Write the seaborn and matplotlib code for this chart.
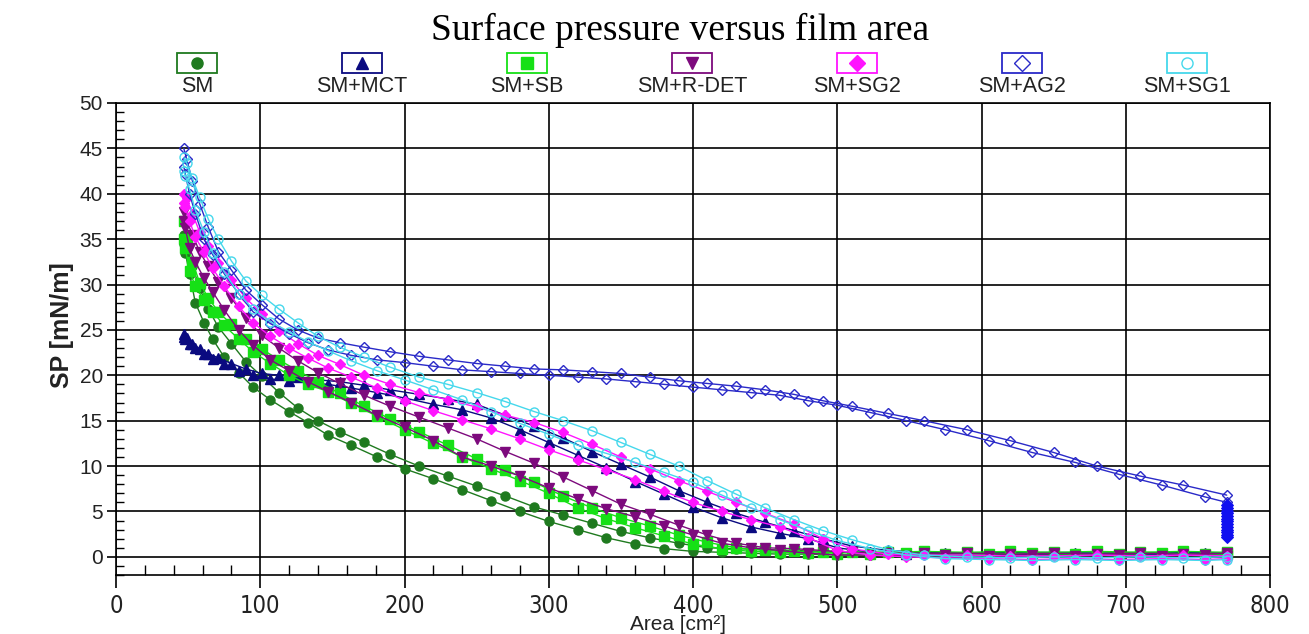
import matplotlib
matplotlib.use("Agg")
import numpy as np
import pandas as pd
import matplotlib.pyplot as plt
from matplotlib import font_manager
from matplotlib.lines import Line2D
from matplotlib.patches import Rectangle
from matplotlib.ticker import MultipleLocator
import seaborn as sns

# film area of the sampled points (compression and expansion branches)
AREA_COMP = [770, 740, 710, 680, 650, 620, 590, 560, 535, 510, 490, 470, 450, 430, 410, 390, 370, 350, 330, 310,
             290, 270, 250, 230, 210, 190, 172, 155, 140, 126, 113, 101, 90, 80, 71, 64, 58, 53, 49, 47]
AREA_EXP = [47, 48, 51, 55, 61, 67, 75, 85, 95, 107, 120, 133, 147, 163, 181, 200, 220, 240, 260, 280,
            300, 320, 340, 360, 380, 400, 420, 440, 460, 480, 500, 523, 548, 575, 605, 635, 665, 695, 725, 755, 770]

SM_COMP = [0.4, 0.4, 0.5, 0.4, 0.4, 0.5, 0.4, 0.4, 0.5, 0.5, 0.6, 0.7, 0.8, 0.9, 1.0, 1.5, 2.1, 2.8, 3.7, 4.6,
           5.5, 6.7, 7.8, 8.9, 10.0, 11.3, 12.6, 13.8, 15.0, 16.4, 18.1, 19.9, 21.5, 23.5, 25.3, 27.3, 29.6, 32.0, 34.0, 35.5]
SM_EXP = [34.5, 33.5, 31.2, 28.0, 25.8, 24.0, 22.0, 20.3, 18.7, 17.3, 16.0, 14.8, 13.4, 12.3, 11.0, 9.7, 8.6, 7.4, 6.2, 5.0,
          3.9, 3.0, 2.1, 1.4, 0.9, 0.6, 0.5, 0.4, 0.3, 0.3, 0.2, 0.2, 0.2, 0.3, 0.2, 0.2, 0.3, 0.2, 0.2, 0.3, 0.2]

MCT_COMP = [0.4, 0.5, 0.4, 0.4, 0.5, 0.4, 0.4, 0.5, 0.7, 1.2, 2.0, 2.9, 3.8, 4.8, 6.0, 7.3, 8.8, 10.2, 11.6, 13.1,
            14.4, 15.6, 16.8, 17.4, 17.9, 18.4, 18.9, 19.3, 19.5, 19.8, 20.0, 20.2, 20.7, 21.3, 21.9, 22.4, 22.9, 23.5, 24.1, 24.5]
MCT_EXP = [24.2, 24.0, 23.5, 23.0, 22.3, 21.8, 21.2, 20.5, 20.0, 19.6, 19.4, 19.2, 19.0, 18.6, 18.1, 17.5, 16.8, 16.2, 15.3, 14.0,
           12.6, 11.2, 9.8, 8.3, 6.9, 5.5, 4.3, 3.3, 2.6, 2.0, 1.0, 0.5, 0.3, 0.4, 0.3, 0.3, 0.4, 0.3, 0.3, 0.4, 0.3]

SB_COMP = [0.5, 0.6, 0.5, 0.6, 0.5, 0.6, 0.5, 0.6, 0.5, 0.5, 0.5, 0.6, 0.7, 1.0, 1.6, 2.4, 3.4, 4.3, 5.4, 6.7,
           8.2, 9.6, 10.8, 12.3, 13.8, 15.2, 16.6, 18.0, 19.3, 20.5, 21.7, 22.9, 24.0, 25.6, 27.0, 28.5, 30.2, 32.5, 35.0, 37.0]
SB_EXP = [35.0, 34.0, 31.5, 29.8, 28.3, 27.0, 25.5, 24.0, 22.6, 21.3, 20.0, 19.0, 18.2, 16.9, 15.5, 14.0, 12.5, 11.0, 9.7, 8.4,
          7.0, 5.4, 4.2, 3.2, 2.3, 1.4, 0.9, 0.6, 0.5, 0.4, 0.3, 0.3, 0.4, 0.3, 0.3, 0.4, 0.3, 0.3, 0.4, 0.3, 0.3]

RDET_COMP = [0.4, 0.3, 0.4, 0.3, 0.4, 0.3, 0.4, 0.4, 0.4, 0.5, 0.7, 0.9, 1.0, 1.5, 2.4, 3.5, 4.7, 5.8, 7.3, 8.8,
             10.3, 11.6, 13.0, 14.2, 15.4, 16.6, 17.8, 19.1, 20.3, 21.6, 23.0, 24.4, 26.3, 28.5, 30.3, 32.0, 33.6, 35.5, 37.0, 38.0]
RDET_EXP = [37.0, 36.2, 34.0, 32.5, 30.7, 29.2, 27.2, 25.0, 23.3, 21.7, 20.5, 19.3, 18.2, 17.0, 15.6, 14.3, 12.8, 11.0, 10.0, 8.9,
            7.6, 6.4, 5.3, 4.4, 3.4, 2.4, 1.5, 1.0, 0.7, 0.4, 0.2, 0.2, 0.1, 0.2, 0.1, 0.2, 0.1, 0.2, 0.1, 0.2, 0.1]

SG2_COMP = [0.1, 0.2, 0.1, 0.2, 0.1, 0.1, 0.2, 0.2, 0.3, 0.9, 2.0, 3.6, 4.8, 6.0, 7.2, 8.4, 9.7, 11.0, 12.4, 13.7,
            14.8, 15.6, 16.5, 17.3, 18.1, 19.0, 20.0, 21.2, 22.2, 23.5, 24.9, 26.8, 28.5, 30.5, 32.4, 34.2, 35.8, 37.8, 39.5, 40.0]
SG2_EXP = [39.0, 38.5, 37.0, 35.2, 33.6, 31.8, 29.8, 27.6, 25.8, 24.3, 23.0, 21.9, 20.8, 19.8, 18.6, 17.2, 16.1, 15.1, 14.1, 13.0,
           11.8, 10.7, 9.6, 8.5, 7.2, 6.0, 5.0, 4.1, 3.3, 2.1, 0.7, 0.2, 0.0, -0.1, -0.2, -0.3, -0.2, -0.3, -0.2, -0.3, -0.2]

AG2_COMP = [6.8, 7.9, 8.9, 10.0, 11.5, 12.8, 14.0, 15.0, 15.8, 16.6, 17.2, 17.9, 18.4, 18.8, 19.1, 19.4, 19.8, 20.2, 20.4, 20.6,
            20.7, 21.0, 21.3, 21.7, 22.1, 22.6, 23.1, 23.6, 24.1, 25.0, 26.2, 27.8, 29.4, 31.6, 33.6, 36.3, 38.9, 41.4, 43.8, 45.0]
AG2_EXP = [43.0, 42.2, 40.0, 37.8, 35.0, 33.3, 31.2, 29.0, 27.0, 25.7, 24.6, 23.6, 22.8, 22.2, 21.7, 21.4, 21.0, 20.6, 20.4, 20.2,
           20.0, 19.8, 19.6, 19.3, 19.0, 18.7, 18.4, 18.1, 17.8, 17.2, 16.7, 15.9, 15.0, 14.0, 12.8, 11.5, 10.4, 9.1, 7.9, 6.6, 6.0]
# AG2 relaxation at the end of the cycle
AREA_HOLD = 770
AG2_HOLD = [5.7, 5.4, 5.1, 4.8, 4.5, 4.2, 3.9, 3.6, 3.3, 3.0, 2.7, 2.4, 2.2]

SG1_COMP = [0.0, -0.1, 0.0, -0.1, 0.0, -0.1, 0.0, 0.2, 0.8, 1.9, 2.9, 4.1, 5.4, 6.9, 8.4, 10.0, 11.3, 12.6, 13.9, 15.0,
            16.0, 17.1, 18.1, 19.0, 19.8, 20.9, 22.0, 23.1, 24.3, 25.8, 27.3, 28.8, 30.4, 32.6, 35.0, 37.2, 39.6, 41.7, 43.4, 44.0]
SG1_EXP = [42.5, 42.0, 40.5, 38.2, 35.8, 33.5, 31.4, 29.0, 27.3, 25.9, 24.8, 23.7, 22.7, 21.6, 20.5, 19.5, 18.4, 17.3, 16.0, 14.7,
           13.5, 12.3, 11.4, 10.4, 9.3, 8.2, 6.8, 5.4, 4.1, 2.9, 1.8, 0.9, 0.2, -0.2, -0.3, -0.4, -0.3, -0.4, -0.3, -0.4, -0.3]

SAMPLES = ['SM', 'SM+MCT', 'SM+SB', 'SM+R-DET', 'SM+SG2', 'SM+AG2', 'SM+SG1']
COMP = [SM_COMP, MCT_COMP, SB_COMP, RDET_COMP, SG2_COMP, AG2_COMP, SG1_COMP]
EXP = [SM_EXP, MCT_EXP, SB_EXP, RDET_EXP, SG2_EXP, AG2_EXP, SG1_EXP]

COLORS = ['#1f7a1f', '#0a0a80', '#16e016', '#7d0a7d', '#ff14ff', '#2a2ac8', '#45d8ec']
MARKERS = ['o', '^', 's', 'v', 'D', 'D', 'o']
OPEN = ['SM+AG2', 'SM+SG1']

rows = []
for name, comp, exp in zip(SAMPLES, COMP, EXP):
    rows += [(name, 'comp', a, p) for a, p in zip(AREA_COMP, comp)]
    rows += [(name, 'exp', a, p) for a, p in zip(AREA_EXP, exp)]
df = pd.DataFrame(rows, columns=['sample', 'branch', 'area', 'sp'])

sns.set_style('white')
plt.rcParams['font.family'] = ['Liberation Sans', 'DejaVu Sans']

W, H = 1309, 634
fig = plt.figure(figsize=(W / 100, H / 100), dpi=100)
ax = fig.add_axes([116 / W, 1 - 575 / H, 1154 / W, 472 / H])

for name, c, m in zip(SAMPLES, COLORS, MARKERS):
    sub = df[df['sample'] == name]
    sns.lineplot(data=sub, x='area', y='sp', units='branch', estimator=None, sort=False,
                 color=c, marker=m, markersize=6.5 if m != 'D' else 5.5,
                 markeredgecolor=c, markerfacecolor='none' if name in OPEN else c,
                 markeredgewidth=1.0, linewidth=1.0, legend=False, ax=ax)

hold = pd.DataFrame({'area': [AREA_HOLD] * len(AG2_HOLD), 'sp': AG2_HOLD})
sns.lineplot(data=hold, x='area', y='sp', estimator=None, sort=False, color='#1010f0',
             marker='D', markersize=6, markeredgecolor='#1010f0', linewidth=5, ax=ax)

ax.set_xlim(0, 800)
ax.set_ylim(-2, 50)
ax.xaxis.set_major_locator(MultipleLocator(100))
ax.xaxis.set_minor_locator(MultipleLocator(20))
ax.yaxis.set_major_locator(MultipleLocator(5))
ax.yaxis.set_minor_locator(MultipleLocator(1))
ax.grid(True, which='major', color='black', linewidth=1.2)
ax.set_axisbelow(True)
for sp in ax.spines.values():
    sp.set_visible(True)
    sp.set_color('black')
    sp.set_linewidth(1.2)

ax.tick_params(axis='x', which='both', bottom=True)
ax.tick_params(axis='y', which='both', left=True)
ax.tick_params(axis='x', which='major', direction='out', length=9.5, width=1.2, pad=4, labelsize=17, color='black')
ax.tick_params(axis='x', which='minor', direction='in', length=7, width=1.0, color='black')
ax.tick_params(axis='y', which='major', direction='out', length=6.5, width=1.2, pad=3, labelsize=15, color='black')
ax.tick_params(axis='y', which='minor', direction='in', length=5.5, width=1.0, color='black')
ax.set_xlabel('')
ax.set_ylabel('')

names = {f.name for f in font_manager.fontManager.ttflist}
narrow = 'Liberation Sans Narrow' if 'Liberation Sans Narrow' in names else 'DejaVu Sans'
for lbl in ax.get_xticklabels():
    lbl.set_fontfamily(narrow)
    if narrow == 'DejaVu Sans':
        lbl.set_fontstretch('condensed')
for lbl in ax.get_xticklabels() + ax.get_yticklabels():
    lbl.set_color('#222222')

fig.text(680 / W, 1 - 30 / H, 'Surface pressure versus film area', family='Liberation Serif',
         fontsize=27, ha='center', va='center', color='black')
fig.text(62 / W, 1 - 325 / H, 'SP [mN/m]', rotation=90, fontsize=18, fontweight='bold',
         ha='center', va='center', color='#222222')
fig.text(678 / W, 1 - 625 / H, 'Area [cm²]', fontsize=15, ha='center', va='center', color='#222222')

# legend: framed marker with the label underneath
for i, (name, c, m) in enumerate(zip(SAMPLES, COLORS, MARKERS)):
    cx = 197 + 165 * i
    fig.add_artist(Rectangle(((cx - 20) / W, 1 - 73 / H), 40 / W, 20 / H, transform=fig.transFigure,
                             fill=False, edgecolor=c, linewidth=1.3))
    fig.add_artist(Line2D([cx / W], [1 - 63 / H], transform=fig.transFigure, marker=m, markersize=8,
                          color=c, markerfacecolor='none' if name in OPEN else c, linestyle='none'))
    fig.text(cx / W, 1 - 86 / H, name, fontsize=15.5, ha='center', va='center', color='#222222')

fig.savefig('out.png', dpi=100)
